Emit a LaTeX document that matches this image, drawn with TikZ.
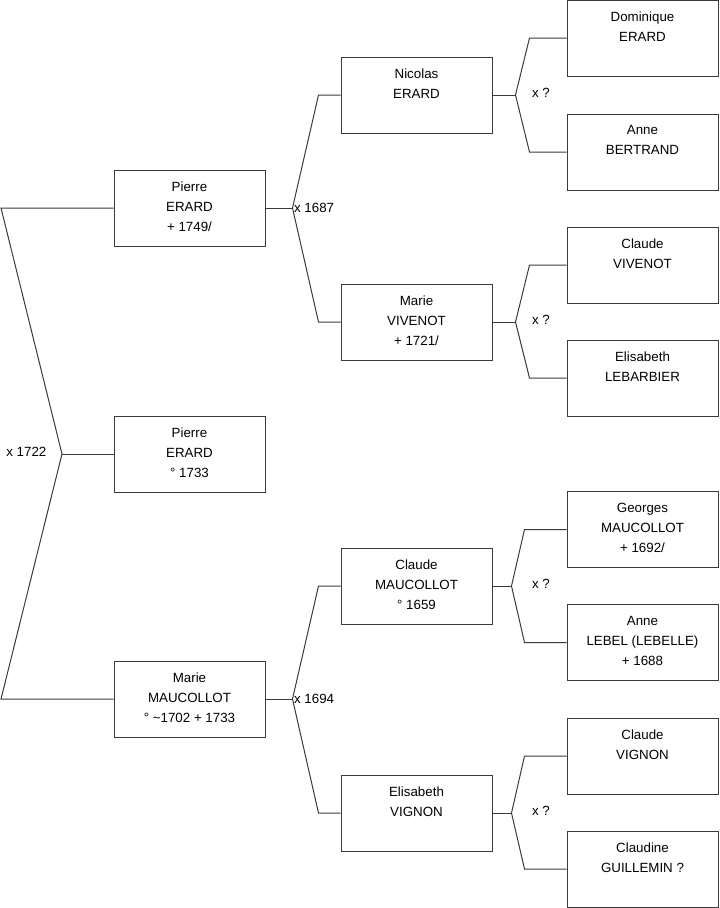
\documentclass[tikz,border=0pt]{standalone}
\usepackage{fontspec}
\setmainfont{Liberation Sans}
\usetikzlibrary{positioning, calc}
\definecolor{lineDark}{HTML}{3A3A3A}
\tikzset{
  person/.style={rectangle, draw=lineDark, line width=0.75pt, minimum width=113.25pt,
                 minimum height=57pt, inner sep=0pt, align=center,
                 font=\fontsize{10}{15}\selectfont,
                 execute at end node={\rule[-2.4pt]{0pt}{0pt}}},
  link/.style={draw=lineDark, line width=0.75pt},
  marriage/.style={inner sep=1pt, font=\fontsize{10}{12}\selectfont},
}
\begin{document}
\begin{tikzpicture}[x=0.75pt, y=-0.75pt]
    \useasboundingbox (0,0) rectangle (719,908);
    % generation 1
    \node[person] (pierre) at (189.5,208) {Pierre\\ERARD\\+ 1749/};
    \node[person] (child) at (189.5,454) {Pierre\\ERARD\\° 1733};
    \node[person] (marie) at (189.5,699) {Marie\\MAUCOLLOT\\° \textasciitilde1702 + 1733};
    % generation 2
    \node[person] (nicolas) at (416.5,95) {Nicolas\\ERARD\\\mbox{}};
    \node[person] (vivenot) at (416.5,322) {Marie\\VIVENOT\\+ 1721/};
    \node[person] (claude) at (416.5,586) {Claude\\MAUCOLLOT\\° 1659};
    \node[person] (elisabeth) at (416.5,813) {Elisabeth\\VIGNON\\\mbox{}};
    % generation 3
    \node[person] (dominique) at (642.5,38) {Dominique\\ERARD\\\mbox{}};
    \node[person] (bertrand) at (642.5,152) {Anne\\BERTRAND\\\mbox{}};
    \node[person] (cvivenot) at (642.5,265) {Claude\\VIVENOT\\\mbox{}};
    \node[person] (lebarbier) at (642.5,378) {Elisabeth\\LEBARBIER\\\mbox{}};
    \node[person] (georges) at (642.5,529.5) {Georges\\MAUCOLLOT\\+ 1692/};
    \node[person] (lebel) at (642.5,642.5) {Anne\\LEBEL (LEBELLE)\\+ 1688};
    \node[person] (cvignon) at (642.5,756) {Claude\\VIGNON\\\mbox{}};
    \node[person] (guillemin) at (642.5,869) {Claudine\\GUILLEMIN ?\\\mbox{}};

    % couple of the child
    \coordinate (wtop) at (1,208);
    \coordinate (wbot) at (1,699);
    \coordinate (fchild) at (62,454);
    \draw[link] (pierre.west) -- (wtop) -- (fchild) -- (wbot) -- (marie.west);
    \draw[link] (fchild) -- (child.west);
    \node[marriage, anchor=east] (xchild) at (48,452) {x 1722};

    % parents
    \draw[link] (pierre.east) -- ++(27,0) coordinate (fpierre);
    \draw[link] (nicolas.west) -- ++(-22,0) -- (fpierre) -- ($(vivenot.west)+(-22,0)$) -- (vivenot.west);
    \node[marriage, anchor=west] (xpierre) at (fpierre) {x 1687};
    \draw[link] (marie.east) -- ++(27,0) coordinate (fmarie);
    \draw[link] (claude.west) -- ++(-22,0) -- (fmarie) -- ($(elisabeth.west)+(-22,0)$) -- (elisabeth.west);
    \node[marriage, anchor=west] (xmarie) at (fmarie) {x 1694};

    % grandparents
    \foreach \p/\a/\b/\d/\e in {nicolas/dominique/bertrand/23/37, vivenot/cvivenot/lebarbier/23/37,
                                claude/georges/lebel/19/42, elisabeth/cvignon/guillemin/19/42} {
      \draw[link] (\p.east) -- ++(\d,0) coordinate (f\p);
      \draw[link] (\a.west) -- ++(-\e,0) -- (f\p) -- ($(\b.west)+(-\e,0)$) -- (\b.west);
      \node[marriage, anchor=west] (x\p) at ($(f\p -| \a.west)+(-36,-2)$) {x ?};
    }
\end{tikzpicture}
\end{document}
